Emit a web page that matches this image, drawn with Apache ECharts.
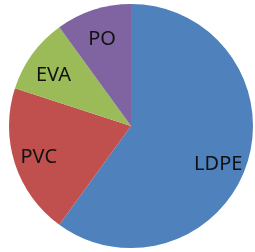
<!DOCTYPE html>
<html>
<head>
<meta charset="utf-8">
<script src="https://cdn.jsdelivr.net/npm/echarts@6/dist/echarts.min.js"></script>
<style>
  html, body { margin: 0; padding: 0; background: #fff; }
  #chart { width: 255px; height: 252px; }
</style>
</head>
<body>
<div id="chart"></div>
<script>
// 数据
var categories = ['LDPE', 'PVC', 'EVA', 'PO'];
var values = [60, 20, 10, 10];
var colors = ['#4F81BD', '#C0504D', '#9BBB59', '#8064A2'];

var pieData = categories.map(function (name, i) {
  return { name: name, value: values[i], itemStyle: { color: colors[i] } };
});

var myChart = echarts.init(document.getElementById('chart'));

var option = {
  animation: false,
  series: [
    {
      // 扇形本体
      type: 'pie',
      center: [131, 126],
      radius: [0, 122],
      startAngle: 90,
      clockwise: true,
      label: { show: false },
      labelLine: { show: false },
      itemStyle: { borderWidth: 0 },
      data: pieData
    },
    {
      // 透明环，仅用于放置标签（靠外侧）
      type: 'pie',
      center: [131, 126],
      radius: [66, 122],
      startAngle: 90,
      clockwise: true,
      silent: true,
      itemStyle: { color: 'rgba(0,0,0,0)', borderWidth: 0 },
      label: {
        show: true,
        position: 'inside',
        formatter: '{b}',
        color: '#111',
        fontSize: 20,
        fontFamily: 'Noto Sans'
      },
      labelLine: { show: false },
      // 标签微调
      labelLayout: function (params) {
        if (params.dataIndex === 0) return { dx: -5, dy: 8 };
        if (params.dataIndex === 1) return { dy: 1 };
        return { dx: 1, dy: 6 };
      },
      data: categories.map(function (name, i) {
        return { name: name, value: values[i] };
      })
    }
  ]
};

myChart.setOption(option);
</script>
</body>
</html>
